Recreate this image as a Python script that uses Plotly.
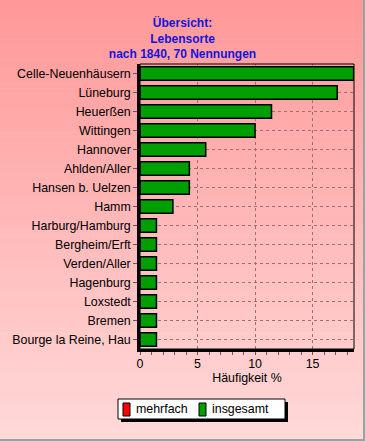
import plotly.graph_objects as go

categories = ["Celle-Neuenhäusern", "Lüneburg", "Heuerßen", "Wittingen", "Hannover",
              "Ahlden/Aller", "Hansen b. Uelzen", "Hamm", "Harburg/Hamburg",
              "Bergheim/Erft", "Verden/Aller", "Hagenburg", "Loxstedt", "Bremen",
              "Bourge la Reine, Hau"]
insgesamt = [18.57, 17.14, 11.43, 10.0, 5.71, 4.29, 4.29, 2.86, 1.43,
             1.43, 1.43, 1.43, 1.43, 1.43, 1.43]
mehrfach = [0] * len(categories)
x_ticks = [0, 5, 10, 15]
series_names = ["mehrfach", "insgesamt"]
series_colors = ["#ff0000", "#009e00"]

W, H = 365, 441
L, R, T, B = 140, 11, 64, 92
pw, ph = W - L - R, H - T - B


def px(x):
    return (x - L) / pw


def py(y):
    return (H - B - y) / ph


FONT = "Arial, Liberation Sans, sans-serif"
FS = 12.4

fig = go.Figure()
fig.add_trace(go.Bar(y=categories, x=mehrfach, orientation="h", name=series_names[0],
                     marker=dict(color=series_colors[0], line=dict(color="black", width=0)),
                     width=0.7, showlegend=False))
fig.add_trace(go.Bar(y=categories, x=insgesamt, orientation="h", name=series_names[1],
                     marker=dict(color=series_colors[1], line=dict(color="black", width=1.5)),
                     width=0.7, showlegend=False))

# gradient background strips
shapes = []
n = 90
y0p, y1p = py(H), py(0)
x0p, x1p = px(0), px(W)
top = (255, 152, 152)
bot = (255, 217, 217)
for i in range(n):
    f = i / (n - 1)
    c = tuple(round(top[k] + (bot[k] - top[k]) * f) for k in range(3))
    ya = y1p - (y1p - y0p) * i / n
    yb = y1p - (y1p - y0p) * (i + 1) / n - 0.002
    shapes.append(dict(type="rect", xref="paper", yref="paper", x0=x0p, x1=x1p,
                       y0=yb, y1=ya, fillcolor="rgb(%d,%d,%d)" % c,
                       line=dict(width=0), layer="below"))
# outer border right/bottom
shapes.append(dict(type="line", xref="paper", yref="paper", x0=px(W - 1), x1=px(W - 1),
                   y0=y0p, y1=y1p, line=dict(color="#a0a0a0", width=2), layer="above"))
shapes.append(dict(type="line", xref="paper", yref="paper", x0=x0p, x1=x1p,
                   y0=py(H - 1), y1=py(H - 1), line=dict(color="#a0a0a0", width=2), layer="above"))
# plot frame top/right
shapes.append(dict(type="rect", xref="paper", yref="paper", x0=0, x1=1, y0=0, y1=1,
                   line=dict(color="black", width=1), layer="above"))

# manual legend
lx0, lx1, ly0, ly1 = 118, 285, 399, 419
shapes.append(dict(type="rect", xref="paper", yref="paper",
                   x0=px(lx0 + 3), x1=px(lx1 + 3), y0=py(ly1 + 3), y1=py(ly0 + 3),
                   fillcolor="black", line=dict(width=0), layer="above"))
shapes.append(dict(type="rect", xref="paper", yref="paper",
                   x0=px(lx0), x1=px(lx1), y0=py(ly1), y1=py(ly0),
                   fillcolor="white", line=dict(color="black", width=1), layer="above"))
annotations = []
sym_x = [123, 199]
for sx, name, col in zip(sym_x, series_names, series_colors):
    shapes.append(dict(type="rect", xref="paper", yref="paper",
                       x0=px(sx), x1=px(sx + 7), y0=py(416), y1=py(403),
                       fillcolor=col, line=dict(color="black", width=1), layer="above"))
    annotations.append(dict(text=name, xref="paper", yref="paper", x=px(sx + 11),
                            y=py(409), xanchor="left", yanchor="middle", showarrow=False,
                            font=dict(size=FS, family=FONT, color="black")))

fig.update_layout(
    width=W, height=H,
    margin=dict(l=L, r=R, t=T, b=B, autoexpand=False),
    paper_bgcolor="rgb(255,217,217)",
    plot_bgcolor="rgba(0,0,0,0)",
    barmode="overlay",
    shapes=shapes,
    annotations=annotations,
    showlegend=False,
    font=dict(family=FONT, size=FS, color="black"),
    title=dict(text="<b>Übersicht:<br>Lebensorte<br>nach 1840, 70 Nennungen</b>",
               x=0.5, xref="container", xanchor="center",
               y=1 - 27 / H, yref="container", yanchor="top",
               font=dict(size=12, color="#1414dc", family=FONT)),
    xaxis=dict(range=[0, 18.6], tickvals=x_ticks, showgrid=True, gridcolor="#a07070",
               griddash="3px,3px", gridwidth=1, zeroline=False, automargin=False,
               showline=True, linecolor="black", linewidth=2.5,
               ticks="outside", ticklen=1, tickcolor="#705050",
               minor=dict(dtick=1, ticks="outside", ticklen=3, tickcolor="#705050", showgrid=False),
               title=dict(text="Häufigkeit %", standoff=1, font=dict(size=FS)),
               tickfont=dict(size=FS), fixedrange=True),
    yaxis=dict(autorange="reversed", showgrid=True, gridcolor="#a07070", griddash="3px,3px",
               gridwidth=1, showline=True, linecolor="black", linewidth=2.5, automargin=False,
               ticks="outside", ticklen=4, tickcolor="#705050", tickfont=dict(size=FS),
               fixedrange=True),
)

fig.write_html("out.html", config={"displayModeBar": False},
               post_script="document.body.style.margin='0';document.body.style.overflow='hidden';")
